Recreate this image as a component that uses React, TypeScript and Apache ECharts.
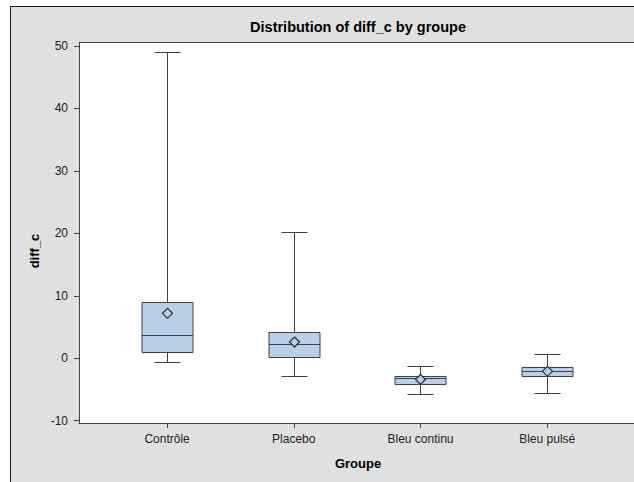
import React, { useEffect, useRef } from "react";
import * as echarts from "echarts";

// Groups on the horizontal axis
const categories = ["Contrôle", "Placebo", "Bleu continu", "Bleu pulsé"];
// Box-plot statistics per group
const whiskerLow = [-0.56, -2.85, -5.65, -5.5];
const q1 = [1.04, 0.19, -4.08, -2.8];
const median = [3.71, 2.32, -3.15, -2.05];
const q3 = [8.95, 4.15, -2.9, -1.4];
const whiskerHigh = [49.03, 20.15, -1.25, 0.67];
const mean = [7.19, 2.59, -3.4, -2.1];
// Y axis tick values
const yTicks = [-10, 0, 10, 20, 30, 40, 50];

const FONT = "'Liberation Sans', Arial, sans-serif";
const BOX_FILL = "#b9cfe8";
const EDGE = "#404040";
const PANEL = "#e0e0e0";

export default function App() {
  const ref = useRef<HTMLDivElement>(null);

  useEffect(() => {
    if (!ref.current) return;
    const chart = echarts.init(ref.current, null, { renderer: "svg" });

    const data = categories.map((_, i) => [
      i + 1,
      whiskerLow[i],
      q1[i],
      median[i],
      q3[i],
      whiskerHigh[i],
      mean[i],
    ]);

    const crisp = (v: number) => Math.round(v) + 0.5;

    const renderItem = (_params: any, api: any) => {
      const x = api.value(0);
      const py = (v: number) => api.coord([x, v])[1];
      const cx = crisp(api.coord([x, 0])[0]);
      const yLow = crisp(py(api.value(1)));
      const yQ1 = crisp(py(api.value(2)));
      const yMed = crisp(py(api.value(3)));
      const yQ3 = crisp(py(api.value(4)));
      const yHigh = crisp(py(api.value(5)));
      const yMean = py(api.value(6));
      const halfBox = 25.5;
      const halfCap = 13;
      const d = 5;
      const lineStyle = { stroke: EDGE, lineWidth: 1, fill: null };
      return {
        type: "group",
        children: [
          { type: "line", shape: { x1: cx, y1: yQ3, x2: cx, y2: yHigh }, style: lineStyle },
          { type: "line", shape: { x1: cx, y1: yQ1, x2: cx, y2: yLow }, style: lineStyle },
          { type: "line", shape: { x1: cx - halfCap, y1: yHigh, x2: cx + halfCap, y2: yHigh }, style: lineStyle },
          { type: "line", shape: { x1: cx - halfCap, y1: yLow, x2: cx + halfCap, y2: yLow }, style: lineStyle },
          {
            type: "rect",
            shape: { x: cx - halfBox, y: yQ3, width: halfBox * 2, height: yQ1 - yQ3 },
            style: { fill: BOX_FILL, stroke: EDGE, lineWidth: 1 },
          },
          { type: "line", shape: { x1: cx - halfBox, y1: yMed, x2: cx + halfBox, y2: yMed }, style: lineStyle },
          {
            type: "polygon",
            shape: {
              points: [
                [cx, yMean - d],
                [cx + d, yMean],
                [cx, yMean + d],
                [cx - d, yMean],
              ],
            },
            style: { fill: BOX_FILL, stroke: "#333", lineWidth: 1.3 },
          },
        ],
      };
    };

    chart.setOption({
      animation: false,
      backgroundColor: PANEL,
      textStyle: { fontFamily: FONT },
      graphic: [
        // white margin above and left of the panel, and the panel's border
        {
          type: "rect",
          silent: true,
          shape: { x: 0, y: 0, width: 634, height: 6 },
          style: { fill: "#ffffff" },
        },
        {
          type: "rect",
          silent: true,
          shape: { x: 0, y: 0, width: 10, height: 482 },
          style: { fill: "#ffffff" },
        },
        {
          type: "polyline",
          silent: true,
          shape: { points: [[10.5, 482], [10.5, 6.5], [634, 6.5]] },
          style: { stroke: "#1a1a1a", lineWidth: 1, fill: null },
        },
        // top edge of the plot area
        {
          type: "line",
          silent: true,
          shape: { x1: 79, y1: 42.5, x2: 634, y2: 42.5 },
          style: { stroke: "#444", lineWidth: 1 },
        },
        {
          type: "text",
          x: 358,
          y: 27,
          style: {
            text: "Distribution of diff_c by groupe",
            font: `bold 14.5px ${FONT}`,
            fill: "#000",
            align: "center",
            verticalAlign: "middle",
          },
        },
        {
          type: "text",
          x: 34,
          y: 251,
          rotation: Math.PI / 2,
          style: {
            text: "diff_c",
            font: `bold 13px ${FONT}`,
            fill: "#000",
            align: "center",
            verticalAlign: "middle",
          },
        },
        {
          type: "text",
          x: 358,
          y: 463,
          style: {
            text: "Groupe",
            font: `bold 13px ${FONT}`,
            fill: "#000",
            align: "center",
            verticalAlign: "middle",
          },
        },
      ],
      grid: {
        left: 79,
        top: 42,
        width: 555,
        height: 381,
        show: true,
        backgroundColor: "#ffffff",
        borderWidth: 0,
        outerBoundsMode: "none",
      },
      xAxis: {
        type: "value",
        min: 0.305,
        max: 4.685,
        splitLine: { show: false },
        axisLine: { show: true, onZero: false, lineStyle: { color: "#444" } },
        axisTick: {
          show: true,
          length: 5,
          customValues: [1, 2, 3, 4],
          lineStyle: { color: "#444" },
        },
        axisLabel: {
          customValues: [1, 2, 3, 4],
          formatter: (v: number) => categories[Math.round(v) - 1] ?? "",
          margin: 10,
          fontSize: 12,
          color: "#222",
          fontFamily: FONT,
        },
      },
      yAxis: {
        type: "value",
        min: -10.37,
        max: 50.64,
        splitLine: { show: false },
        axisLine: { show: true, onZero: false, lineStyle: { color: "#444" } },
        axisTick: {
          show: true,
          length: 5,
          customValues: yTicks,
          lineStyle: { color: "#444" },
        },
        axisLabel: {
          customValues: yTicks,
          margin: 11,
          fontSize: 12,
          color: "#222",
          fontFamily: FONT,
        },
      },
      series: [
        {
          type: "custom",
          renderItem,
          data,
          encode: { x: 0, y: [1, 2, 3, 4, 5, 6] },
          clip: false,
        },
      ],
    });

    return () => chart.dispose();
  }, []);

  return (
    <div
      ref={ref}
      style={{ position: "fixed", left: 0, top: 0, width: 634, height: 482 }}
    />
  );
}
